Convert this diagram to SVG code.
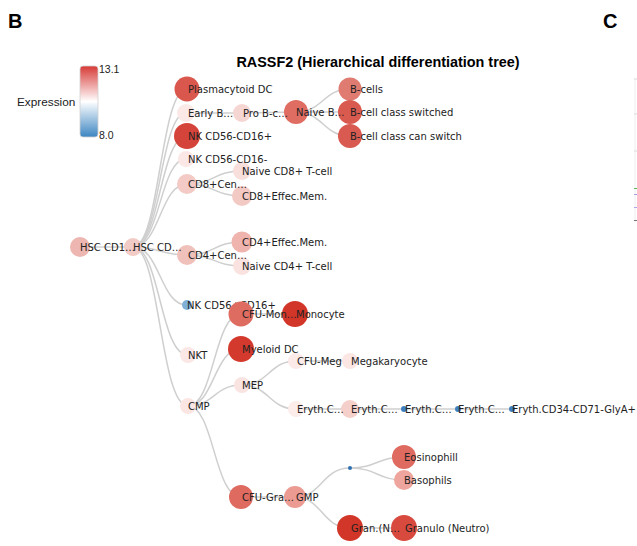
<svg xmlns="http://www.w3.org/2000/svg" width="637" height="546" viewBox="0 0 637 546">
<defs>
<linearGradient id="leg" x1="0" y1="0" x2="0" y2="1">
<stop offset="0" stop-color="#d73a36"/>
<stop offset="0.5" stop-color="#ffffff"/>
<stop offset="1" stop-color="#3d86c2"/>
</linearGradient>
<style>
.lnk{fill:none;stroke:#cfcfcf;stroke-width:1.5}
.lbl{font-family:"DejaVu Sans",Verdana,sans-serif;font-size:10px;fill:#222}
.hdr{font-family:"Liberation Sans",Arial,sans-serif;font-weight:bold;fill:#000}
.leg{font-family:"Liberation Sans",Arial,sans-serif;fill:#222}
</style>
</defs>
<rect width="637" height="546" fill="#ffffff"/>
<text class="hdr" x="8" y="28" font-size="20">B</text>
<text class="hdr" x="603" y="28" font-size="20">C</text>
<text class="hdr" x="378" y="67" font-size="14.4" text-anchor="middle">RASSF2 (Hierarchical differentiation tree)</text>
<g id="legend">
<rect x="80" y="66" width="18" height="71" rx="3" fill="url(#leg)" stroke="#d0d0d0" stroke-width="0.8"/>
<text class="leg" x="99" y="73" font-size="10.5">13.1</text>
<text class="leg" x="99" y="139" font-size="10.5">8.0</text>
<text class="leg" x="17" y="106" font-size="11.8">Expression</text>
</g>
<g id="panelC" stroke-width="1">
<line x1="635" y1="78" x2="635" y2="222" stroke="#eeeeee"/>
<line x1="634" y1="79" x2="637" y2="79" stroke="#dddddd"/>
<line x1="634" y1="114" x2="637" y2="114" stroke="#dddddd"/>
<line x1="634" y1="151" x2="637" y2="151" stroke="#dddddd"/>
<line x1="634" y1="188.5" x2="637" y2="188.5" stroke="#5cb85c"/>
<line x1="634" y1="194.5" x2="637" y2="194.5" stroke="#a9a0e0"/>
<line x1="634" y1="207.5" x2="637" y2="207.5" stroke="#b0a8e8"/>
<line x1="634" y1="220.5" x2="637" y2="220.5" stroke="#777777"/>
</g>
<g id="links">
<path class="lnk" d="M80,247 C106.5,247 106.5,247 133,247"/>
<path class="lnk" d="M133,247 C160,247 160,89 187,89"/>
<path class="lnk" d="M133,247 C160,247 160,113 186,113"/>
<path class="lnk" d="M133,247 C160,247 160,136 187,136"/>
<path class="lnk" d="M133,247 C160,247 160,159 186,159"/>
<path class="lnk" d="M133,247 C160,247 160,184 187,184"/>
<path class="lnk" d="M133,247 C160,247 160,255 187,255"/>
<path class="lnk" d="M133,247 C160,247 160,305 187,305"/>
<path class="lnk" d="M133,247 C160,247 160,355 188,355"/>
<path class="lnk" d="M133,247 C160,247 160,406 188,406"/>
<path class="lnk" d="M186,113 C214,113 214,113 242,113"/>
<path class="lnk" d="M242,113 C269,113 269,112 296,112"/>
<path class="lnk" d="M296,112 C323,112 323,89 350,89"/>
<path class="lnk" d="M296,112 C323,112 323,112 350,112"/>
<path class="lnk" d="M296,112 C323,112 323,136 350,136"/>
<path class="lnk" d="M187,184 C214,184 214,171 242,171"/>
<path class="lnk" d="M187,184 C214,184 214,196 242,196"/>
<path class="lnk" d="M187,255 C214,255 214,242 242,242"/>
<path class="lnk" d="M187,255 C214,255 214,266 242,266"/>
<path class="lnk" d="M188,406 C214,406 214,314 241,314"/>
<path class="lnk" d="M188,406 C214,406 214,349 241,349"/>
<path class="lnk" d="M188,406 C214,406 214,385 242,385"/>
<path class="lnk" d="M188,406 C214,406 214,497 241,497"/>
<path class="lnk" d="M241,314 C268,314 268,314 295,314"/>
<path class="lnk" d="M242,385 C269,385 269,361 296,361"/>
<path class="lnk" d="M242,385 C269,385 269,409 296,409"/>
<path class="lnk" d="M296,361 C323,361 323,361 350,361"/>
<path class="lnk" d="M296,409 C323,409 323,409 350,409"/>
<path class="lnk" d="M350,409 C377,409 377,409 404,409"/>
<path class="lnk" d="M404,409 C431,409 431,409 458,409"/>
<path class="lnk" d="M458,409 C485,409 485,409 512,409"/>
<path class="lnk" d="M241,497 C268,497 268,497 295,497"/>
<path class="lnk" d="M295,497 C322,497 322,468 350,468"/>
<path class="lnk" d="M295,497 C322,497 322,528 350,528"/>
<path class="lnk" d="M350,468 C377,468 377,457 404,457"/>
<path class="lnk" d="M350,468 C377,468 377,480 404,480"/>
<path class="lnk" d="M350,528 C377,528 377,528 404,528"/>
</g>
<g id="n-eryth5"><circle cx="512" cy="409" r="3" fill="#3f7fbf"/><text class="lbl" x="512" y="409" dy="0.35em">Eryth.CD34-CD71-GlyA+</text></g>
<g id="n-eryth4"><circle cx="458" cy="409" r="3" fill="#3f7fbf"/><text class="lbl" x="458" y="409" dy="0.35em">Eryth.C…</text></g>
<g id="n-eryth3"><circle cx="404" cy="409" r="3" fill="#3f7fbf"/><text class="lbl" x="405" y="409" dy="0.35em">Eryth.C…</text></g>
<g id="n-eosino"><circle cx="404" cy="457" r="12" fill="#df6b60"/><text class="lbl" x="404" y="457" dy="0.35em">Eosinophill</text></g>
<g id="n-baso"><circle cx="404" cy="480" r="10" fill="#eea59d"/><text class="lbl" x="404" y="480" dy="0.35em">Basophils</text></g>
<g id="n-granulo"><circle cx="404" cy="528" r="13" fill="#d94a3e"/><text class="lbl" x="405" y="528" dy="0.35em">Granulo (Neutro)</text></g>
<g id="n-eryth2"><circle cx="350" cy="409" r="9" fill="#f5cfca"/><text class="lbl" x="351" y="409" dy="0.35em">Eryth.C…</text></g>
<g id="n-gmpsplit"><circle cx="350" cy="468" r="2" fill="#2f6fb0"/></g>
<g id="n-granN"><circle cx="350" cy="528" r="13" fill="#d23629"/><text class="lbl" x="351" y="528" dy="0.35em">Gran.(N…</text></g>
<g id="n-bcells"><circle cx="350" cy="89" r="11.5" fill="#e07b71"/><text class="lbl" x="350" y="89" dy="0.35em">B-cells</text></g>
<g id="n-bswitched"><circle cx="350" cy="112" r="12" fill="#d95a4f"/><text class="lbl" x="350" y="112" dy="0.35em">B-cell class switched</text></g>
<g id="n-bcanswitch"><circle cx="350" cy="136" r="12" fill="#d85a50"/><text class="lbl" x="350" y="136" dy="0.35em">B-cell class can switch</text></g>
<g id="n-megak"><circle cx="350" cy="361" r="8" fill="#fbe6e4"/><text class="lbl" x="351" y="361" dy="0.35em">Megakaryocyte</text></g>
<g id="n-mono"><circle cx="295" cy="314" r="13" fill="#d23629"/><text class="lbl" x="296" y="314" dy="0.35em">Monocyte</text></g>
<g id="n-cfumeg"><circle cx="296" cy="361" r="8" fill="#fbeae8"/><text class="lbl" x="297" y="361" dy="0.35em">CFU-Meg</text></g>
<g id="n-eryth1"><circle cx="296" cy="409" r="8" fill="#fcecea"/><text class="lbl" x="297" y="409" dy="0.35em">Eryth.C…</text></g>
<g id="n-gmp"><circle cx="295" cy="497" r="11" fill="#eb9b92"/><text class="lbl" x="296" y="497" dy="0.35em">GMP</text></g>
<g id="n-naiveb"><circle cx="296" cy="112" r="12" fill="#df6d62"/><text class="lbl" x="296" y="112" dy="0.35em">Naive B…</text></g>
<g id="n-nkbright"><circle cx="187" cy="305" r="5" fill="#7fb0d8"/><text class="lbl" x="187" y="305" dy="0.35em">NK CD56+CD16+</text></g>
<g id="n-prob"><circle cx="242" cy="113" r="9" fill="#f6d6d2"/><text class="lbl" x="243" y="113" dy="0.35em">Pro B-c…</text></g>
<g id="n-naivecd8"><circle cx="242" cy="171" r="9" fill="#f9dfdc"/><text class="lbl" x="242" y="171" dy="0.35em">Naive CD8+ T-cell</text></g>
<g id="n-cd8eff"><circle cx="242" cy="196" r="10" fill="#f3c9c4"/><text class="lbl" x="242" y="196" dy="0.35em">CD8+Effec.Mem.</text></g>
<g id="n-cd4eff"><circle cx="242" cy="242" r="10.5" fill="#efb4ad"/><text class="lbl" x="242" y="242" dy="0.35em">CD4+Effec.Mem.</text></g>
<g id="n-naivecd4"><circle cx="242" cy="266" r="9" fill="#f9e2df"/><text class="lbl" x="242" y="266" dy="0.35em">Naive CD4+ T-cell</text></g>
<g id="n-cfumon"><circle cx="241" cy="314" r="12.5" fill="#df6c61"/><text class="lbl" x="242" y="314" dy="0.35em">CFU-Mon…</text></g>
<g id="n-mdc"><circle cx="241" cy="349" r="13" fill="#d4392d"/><text class="lbl" x="242" y="349" dy="0.35em">Myeloid DC</text></g>
<g id="n-mep"><circle cx="242" cy="385" r="8" fill="#fae4e1"/><text class="lbl" x="242" y="385" dy="0.35em">MEP</text></g>
<g id="n-cfugra"><circle cx="241" cy="497" r="12" fill="#df6b60"/><text class="lbl" x="242" y="497" dy="0.35em">CFU-Gra…</text></g>
<g id="n-pdc"><circle cx="187" cy="89" r="12.5" fill="#d9574c"/><text class="lbl" x="188" y="89" dy="0.35em">Plasmacytoid DC</text></g>
<g id="n-earlyb"><circle cx="186" cy="113" r="9" fill="#fbe9e7"/><text class="lbl" x="188" y="113" dy="0.35em">Early B…</text></g>
<g id="n-nkpos"><circle cx="187" cy="136" r="13" fill="#d5443a"/><text class="lbl" x="188" y="136" dy="0.35em">NK CD56-CD16+</text></g>
<g id="n-nkneg"><circle cx="186" cy="159" r="8" fill="#fbe7e5"/><text class="lbl" x="188" y="159" dy="0.35em">NK CD56-CD16-</text></g>
<g id="n-cd8cen"><circle cx="187" cy="184" r="10" fill="#f3cac5"/><text class="lbl" x="188" y="184" dy="0.35em">CD8+Cen…</text></g>
<g id="n-cd4cen"><circle cx="187" cy="255" r="10" fill="#f0c0bb"/><text class="lbl" x="188" y="255" dy="0.35em">CD4+Cen…</text></g>
<g id="n-nkt"><circle cx="188" cy="355" r="8" fill="#fbe8e6"/><text class="lbl" x="188" y="355" dy="0.35em">NKT</text></g>
<g id="n-cmp"><circle cx="188" cy="406" r="8" fill="#fbe6e4"/><text class="lbl" x="188" y="406" dy="0.35em">CMP</text></g>
<g id="n-hsc2"><circle cx="133" cy="247" r="9" fill="#f3cbc6"/><text class="lbl" x="133" y="247" dy="0.35em">HSC CD…</text></g>
<g id="n-hsc1"><circle cx="80" cy="247" r="10" fill="#edb6b0"/><text class="lbl" x="80" y="247" dy="0.35em">HSC CD1…</text></g>
</svg>
